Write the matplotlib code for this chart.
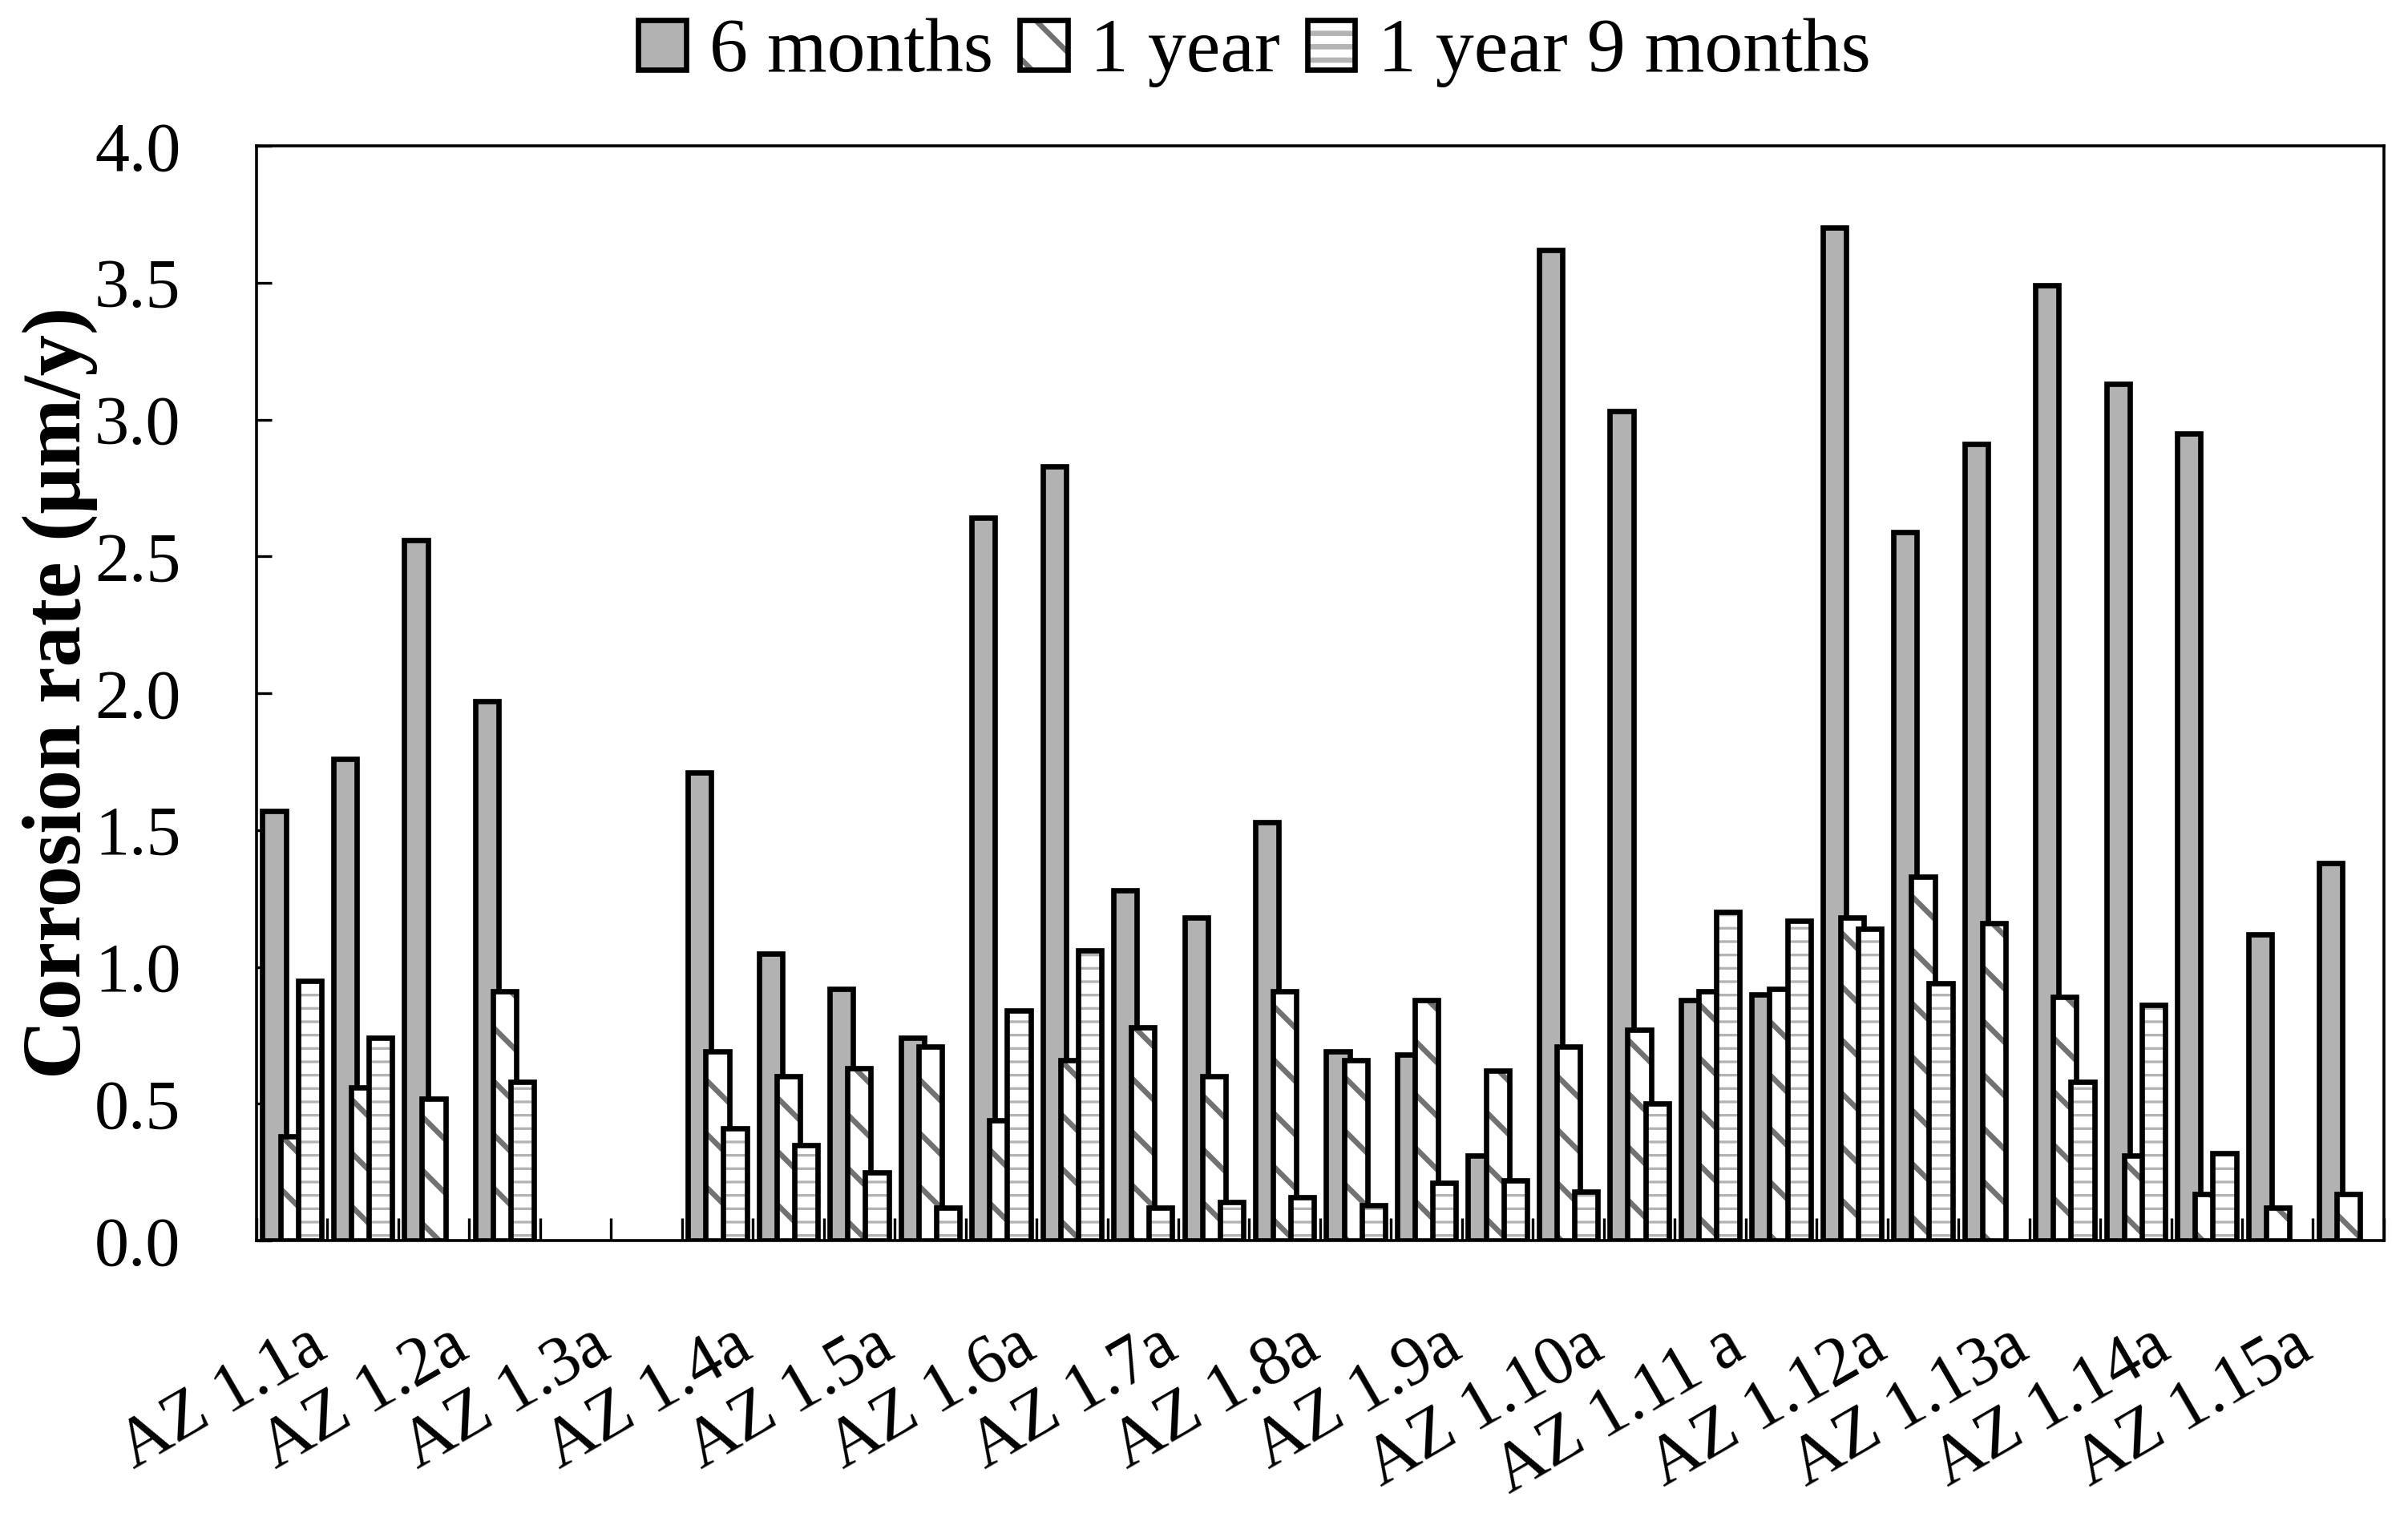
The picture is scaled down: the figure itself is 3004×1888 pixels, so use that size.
import matplotlib
matplotlib.use("Agg")
import matplotlib.pyplot as plt
import matplotlib.transforms as mtransforms
from matplotlib.legend_handler import HandlerTuple
from matplotlib.ticker import FixedLocator, MultipleLocator, FormatStrFormatter
import numpy as np

plt.rcParams["font.family"] = ["Liberation Serif", "DejaVu Serif"]
plt.rcParams["hatch.linewidth"] = 2.4

# 30 samples, every second one is labelled on the x axis
N_SAMPLES = 30
SAMPLE_LABELS = ["AZ 1.1a", "AZ 1.2a", "AZ 1.3a", "AZ 1.4a", "AZ 1.5a",
                 "AZ 1.6a", "AZ 1.7a", "AZ 1.8a", "AZ 1.9a", "AZ 1.10a",
                 "AZ 1.11 a", "AZ 1.12a", "AZ 1.13a", "AZ 1.14a", "AZ 1.15a"]
SERIES = ["6 months", "1 year", "1 year 9 months"]

SIX_MONTHS = [1.57, 1.76, 2.56, 1.97, 0.0, 0.0, 1.71, 1.05, 0.92, 0.74,
              2.64, 2.83, 1.28, 1.18, 1.53, 0.69, 0.68, 0.31, 3.62, 3.03,
              0.88, 0.90, 3.70, 2.59, 2.91, 3.49, 3.13, 2.95, 1.12, 1.38]
ONE_YEAR = [0.38, 0.56, 0.52, 0.91, 0.0, 0.0, 0.69, 0.60, 0.63, 0.71,
            0.44, 0.66, 0.78, 0.60, 0.91, 0.66, 0.88, 0.62, 0.71, 0.77,
            0.91, 0.92, 1.18, 1.33, 1.16, 0.89, 0.31, 0.17, 0.12, 0.17]
ONE_YEAR_9M = [0.95, 0.74, 0.0, 0.58, 0.0, 0.0, 0.41, 0.35, 0.25, 0.12,
               0.84, 1.06, 0.12, 0.14, 0.16, 0.13, 0.21, 0.22, 0.18, 0.50,
               1.20, 1.17, 1.14, 0.94, 0.0, 0.58, 0.86, 0.32, 0.0, 0.0]

VALUES = [SIX_MONTHS, ONE_YEAR, ONE_YEAR_9M]

# fill, hatch, hatch colour, hatch width
STYLES = [("#b2b2b2", None, "#b2b2b2", 1.0),
          ("white", "\\", "#727272", 2.4),
          ("white", "--", "#b4b4b4", 1.2)]

BAR_W = 0.33
STEP = 0.25
EDGE_LW = 2.4


def set_hlw(patch, lw):
    try:
        patch.set_hatch_linewidth(lw)
    except AttributeError:
        pass


fig = plt.figure(figsize=(15.02, 9.44), dpi=200)
ax = fig.add_axes([0.1065, 0.180, 0.8835, 0.7236])

x = np.arange(N_SAMPLES)
handles = []
for i, (vals, (fc, hatch, hc, hlw)) in enumerate(zip(VALUES, STYLES)):
    vals = np.asarray(vals)
    keep = vals > 0  # zero values leave no visible bar
    xpos = x[keep] + (i - 1) * STEP
    fill = ax.bar(xpos, vals[keep], BAR_W, color=fc, edgecolor=hc,
                  hatch=hatch, linewidth=0, zorder=2 + i)
    for p in fill.patches:
        set_hlw(p, hlw)
    ax.bar(xpos, vals[keep], BAR_W, fill=False, edgecolor="black",
           linewidth=EDGE_LW, zorder=2.5 + i)
    h_fill = plt.Rectangle((0, 0), 1, 1, facecolor=fc, edgecolor=hc,
                           hatch=hatch, linewidth=0)
    set_hlw(h_fill, hlw)
    h_edge = plt.Rectangle((0, 0), 1, 1, fill=False, edgecolor="black",
                           linewidth=EDGE_LW)
    handles.append((h_fill, h_edge))

ax.set_xlim(-0.5, N_SAMPLES - 0.5)
ax.set_ylim(0, 4.0)

# y axis
ax.yaxis.set_major_locator(MultipleLocator(0.5))
ax.yaxis.set_major_formatter(FormatStrFormatter("%.1f"))
ax.tick_params(axis="y", direction="in", length=7, width=1.2,
               labelsize=31, pad=34)

# x axis: ticks between samples, labels on every second sample
ax.xaxis.set_minor_locator(FixedLocator(np.arange(-0.5, N_SAMPLES, 1.0)))
ax.set_xticks(x[::2])
ax.set_xticklabels(SAMPLE_LABELS, rotation=30, ha="right", va="top",
                   rotation_mode="anchor", fontsize=31)
ax.tick_params(axis="x", which="major", length=0, pad=33)
ax.tick_params(axis="x", which="minor", direction="in", length=10, width=1.2)
offset = mtransforms.ScaledTranslation(6 / 72, 0, fig.dpi_scale_trans)
for lbl in ax.get_xticklabels():
    lbl.set_transform(lbl.get_transform() + offset)

for sp in ax.spines.values():
    sp.set_linewidth(1.3)
    sp.set_zorder(10)

fig.text(0.025, 0.542, "Corrosion rate (μm/y)", rotation=90,
         ha="center", va="center", fontsize=37, fontweight="bold")

fig.legend(handles, SERIES, loc="center", bbox_to_anchor=(0.521, 0.965),
           ncol=3, frameon=False, fontsize=34.5,
           handler_map={tuple: HandlerTuple(ndivide=1)},
           handlelength=0.62, handleheight=0.62, handletextpad=0.3,
           columnspacing=0.35, borderpad=0.1)

fig.savefig("out.png", dpi=200)
plt.close(fig)
